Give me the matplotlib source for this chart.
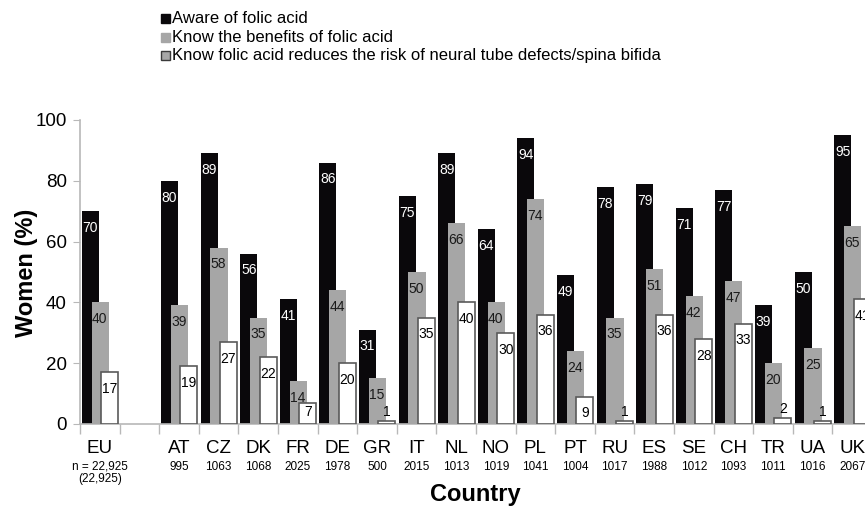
import matplotlib
matplotlib.use("Agg")
import matplotlib.pyplot as plt
from matplotlib.patches import Rectangle

plt.rcParams['font.family'] = ['Liberation Sans', 'DejaVu Sans']

# ---- data ----
countries = ['EU', 'AT', 'CZ', 'DK', 'FR', 'DE', 'GR', 'IT', 'NL', 'NO', 'PL',
             'PT', 'RU', 'ES', 'SE', 'CH', 'TR', 'UA', 'UK']
sample_n = ['n = 22,925', '995', '1063', '1068', '2025', '1978', '500', '2015',
            '1013', '1019', '1041', '1004', '1017', '1988', '1012', '1093',
            '1011', '1016', '2067']
eu_extra = '(22,925)'
aware = [70, 80, 89, 56, 41, 86, 31, 75, 89, 64, 94, 49, 78, 79, 71, 77, 39, 50, 95]
benefits = [40, 39, 58, 35, 14, 44, 15, 50, 66, 40, 74, 24, 35, 51, 42, 47, 20, 25, 65]
ntd = [17, 19, 27, 22, 7, 20, 1, 35, 40, 30, 36, 9, 1, 36, 28, 33, 2, 1, 41]
series_names = ['Aware of folic acid',
                'Know the benefits of folic acid',
                'Know folic acid reduces the risk of neural tube defects/spina bifida']
yticks = [0, 20, 40, 60, 80, 100]

# ---- layout ----
W, H = 865, 508
fig = plt.figure(figsize=(W / 100, H / 100), dpi=100)
ax = fig.add_axes([80 / W, 84 / H, 792 / W, 304 / H])

# EU at slot 0, gap at slot 1, countries from slot 2
pos = [0] + list(range(2, 2 + len(countries) - 1))

BLACK = '#0a080b'
GRAY = '#a6a6a6'
EDGE = '#5a5a5a'
AXC = '#b8b8b8'
bw = 0.43

ax.bar([p - 0.24 for p in pos], aware, width=bw, color=BLACK, zorder=2)
ax.bar([p + 0.01 for p in pos], benefits, width=bw, color=GRAY, zorder=3)
ax.bar([p + 0.25 for p in pos], ntd, width=bw, color='white', edgecolor=EDGE,
       linewidth=1.2, zorder=4)


def put_labels(xs, vals, color):
    for x, v in zip(xs, vals):
        if v < 5:
            ax.text(x, v + 0.6, str(v), ha='center', va='bottom', fontsize=10,
                    color='black', zorder=6)
        elif v < 9:
            ax.text(x, v - 0.8, str(v), ha='center', va='top', fontsize=10,
                    color=color, zorder=6)
        else:
            ax.text(x, v - 3.2, str(v), ha='center', va='top', fontsize=10,
                    color=color, zorder=6)


put_labels([p - 0.24 for p in pos], aware, 'white')
put_labels([p + 0.0 for p in pos], benefits, '#1a1a1a')
put_labels([p + 0.25 for p in pos], ntd, 'black')

ax.set_xlim(-0.5, 19.5)
ax.set_ylim(0, 100)
ax.set_yticks(yticks)
ax.tick_params(axis='y', length=5, color=AXC, labelsize=13.5, pad=4.5)
ax.set_xticks([b - 0.5 for b in range(0, 21)])
ax.set_xticklabels([])
ax.tick_params(axis='x', length=7, color=AXC, width=1)
for s in ['top', 'right']:
    ax.spines[s].set_visible(False)
for s in ['left', 'bottom']:
    ax.spines[s].set_color(AXC)
    ax.spines[s].set_linewidth(1.2)

# category labels
for p, c, n in zip(pos, countries, sample_n):
    ax.annotate(c, xy=(p, 0), xycoords=('data', 'axes fraction'),
                xytext=(0, -17.3), textcoords='offset points',
                ha='center', va='center', fontsize=13.5, annotation_clip=False)
    ax.annotate(n, xy=(p, 0), xycoords=('data', 'axes fraction'),
                xytext=(0, -30.8), textcoords='offset points',
                ha='center', va='center', fontsize=8.5, annotation_clip=False)
ax.annotate(eu_extra, xy=(pos[0], 0), xycoords=('data', 'axes fraction'),
            xytext=(0, -39.6), textcoords='offset points',
            ha='center', va='center', fontsize=8.5, annotation_clip=False)

fig.text(26 / W, 1 - 272.5 / H, 'Women (%)', rotation=90, ha='center',
         va='center', fontsize=17, fontweight='bold')
fig.text(475 / W, 1 - 495 / H, 'Country', ha='center', va='center',
         fontsize=17, fontweight='bold')

# legend (manual)
leg_face = [BLACK, GRAY, GRAY]
leg_edge = [BLACK, GRAY, '#3a3a3a']
rows = [18.8, 37.0, 55.3]
for name, fc, ec, yc in zip(series_names, leg_face, leg_edge, rows):
    fig.patches.append(Rectangle((161 / W, 1 - (yc + 4.5) / H), 9 / W, 9 / H,
                                 transform=fig.transFigure, facecolor=fc,
                                 edgecolor=ec, linewidth=1.0))
    fig.text(172 / W, 1 - yc / H, name, ha='left', va='center', fontsize=12)

fig.savefig('out.png', dpi=100)
